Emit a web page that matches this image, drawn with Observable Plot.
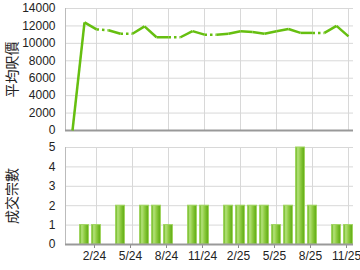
<!DOCTYPE html>
<html>
<head>
<meta charset="utf-8">
<script src="https://cdn.jsdelivr.net/npm/d3@7"></script>
<script src="https://cdn.jsdelivr.net/npm/@observablehq/plot@0.6"></script>
<style>
  html, body { margin: 0; padding: 0; background: #fff; }
  #chart { position: relative; width: 360px; height: 270px; overflow: hidden; }
  #chart > div, #chart > svg { position: absolute; left: 0; }
  [aria-label="y-axis label"] text { font-size: 14px; font-family: "Noto Sans CJK TC", sans-serif; fill: #222; }
</style>
</head>
<body>
<div id="chart"></div>
<script>
// ---- data ----
const months = ["2023-12","2024-01","2024-02","2024-03","2024-04","2024-05","2024-06","2024-07","2024-08","2024-09","2024-10","2024-11","2024-12","2025-01","2025-02","2025-03","2025-04","2025-05","2025-06","2025-07","2025-08","2025-09","2025-10","2025-11"];
const avgPrice = [0,12400,11600,11500,11100,11100,11950,10700,10700,10700,11400,11000,11000,11100,11400,11300,11100,11400,11650,11200,11200,11200,12000,10800];
const deals = [0,1,1,0,2,0,2,2,1,0,2,2,0,2,2,2,2,1,2,5,2,0,1,1];
const tickMonths = ["2024-02","2024-05","2024-08","2024-11","2025-02","2025-05","2025-08","2025-11"];
const tickLabels = ["2/24","5/24","8/24","11/24","2/25","5/25","8/25","11/25"];
const priceTicks = [0,2000,4000,6000,8000,10000,12000,14000];
const dealTicks = [0,1,2,3,4,5];
const priceLabel = "平均呎價";
const dealLabel = "成交宗數";

// ---- derived tables ----
const rows = months.map((m, i) => ({i, m, price: avgPrice[i], deals: deals[i]}));
const segs = rows.slice(1).map((r, k) => ({
  x1: rows[k].i, y1: rows[k].price, x2: r.i, y2: r.price, dotted: r.deals === 0
}));
const tickIdx = tickMonths.map(m => months.indexOf(m));
const labelOf = new Map(tickIdx.map((t, k) => [t, tickLabels[k]]));
const xDomain = [-0.583, 23.417];

const font = {fontFamily: "'Liberation Sans', Arial, sans-serif", fontSize: "12px", color: "#222", background: "transparent", overflow: "visible"};
const green = "#66bf10";

const topPlot = Plot.plot({
  width: 360, height: 135,
  marginLeft: 65, marginRight: 7, marginTop: 8, marginBottom: 5,
  style: font,
  x: {domain: xDomain, axis: null},
  y: {domain: [0, 14000]},
  marks: [
    Plot.gridY(priceTicks, {stroke: "#d8d8d8", strokeOpacity: 1}),
    Plot.gridX(tickIdx, {stroke: "#d8d8d8", strokeOpacity: 1}),
    Plot.axisY(priceTicks, {tickSize: 0, tickPadding: 10, tickFormat: d => String(d), label: priceLabel, labelAnchor: "center", labelArrow: false, labelOffset: 58}),
    Plot.frame({anchor: "left", stroke: "#bbb"}),
    Plot.ruleY([0], {stroke: "#999", strokeWidth: 2}),
    Plot.link(segs.filter(s => !s.dotted), {x1: "x1", y1: "y1", x2: "x2", y2: "y2", stroke: green, strokeWidth: 2.5}),
    Plot.link(segs.filter(s => s.dotted), {x1: "x1", y1: "y1", x2: "x2", y2: "y2", stroke: green, strokeWidth: 2.5, strokeDasharray: "2.5,3"})
  ]
});

const bottomPlot = Plot.plot({
  width: 360, height: 135,
  marginLeft: 65, marginRight: 7, marginTop: 12, marginBottom: 26,
  style: font,
  x: {domain: xDomain},
  y: {domain: [0, 5]},
  marks: [
    Plot.gridY(dealTicks, {stroke: "#d8d8d8", strokeOpacity: 1}),
    Plot.gridX(tickIdx, {stroke: "#d8d8d8", strokeOpacity: 1}),
    Plot.axisY(dealTicks, {tickSize: 0, tickPadding: 10, label: dealLabel, labelAnchor: "center", labelArrow: false, labelOffset: 58}),
    Plot.axisX(tickIdx, {tickSize: 4, tickPadding: 3, tickFormat: d => labelOf.get(d), label: null, stroke: "#888", textStroke: "none", dx: -2}),
    Plot.frame({anchor: "left", stroke: "#bbb"}),
    Plot.rectY(rows.filter(r => r.deals > 0), {x1: r => r.i - 0.37, x2: r => r.i + 0.37, y: "deals", fill: "url(#barGrad)", stroke: "#9fd45e", strokeWidth: 1}),
    Plot.ruleY([0], {stroke: "#999", strokeWidth: 2})
  ]
});

// gradient for bars
const defs = d3.select(bottomPlot).insert("defs", ":first-child");
const g = defs.append("linearGradient").attr("id", "barGrad").attr("x1", "0").attr("x2", "1").attr("y1", "0").attr("y2", "0");
[[0, "#5fae10"], [0.25, "#b4e27a"], [0.55, "#90cc44"], [1, "#5aa80c"]].forEach(([o, c]) => g.append("stop").attr("offset", o).attr("stop-color", c));

const chart = document.getElementById("chart");
topPlot.style.top = "0px";
bottomPlot.style.top = "135px";
chart.appendChild(topPlot);
chart.appendChild(bottomPlot);
</script>
</body>
</html>
